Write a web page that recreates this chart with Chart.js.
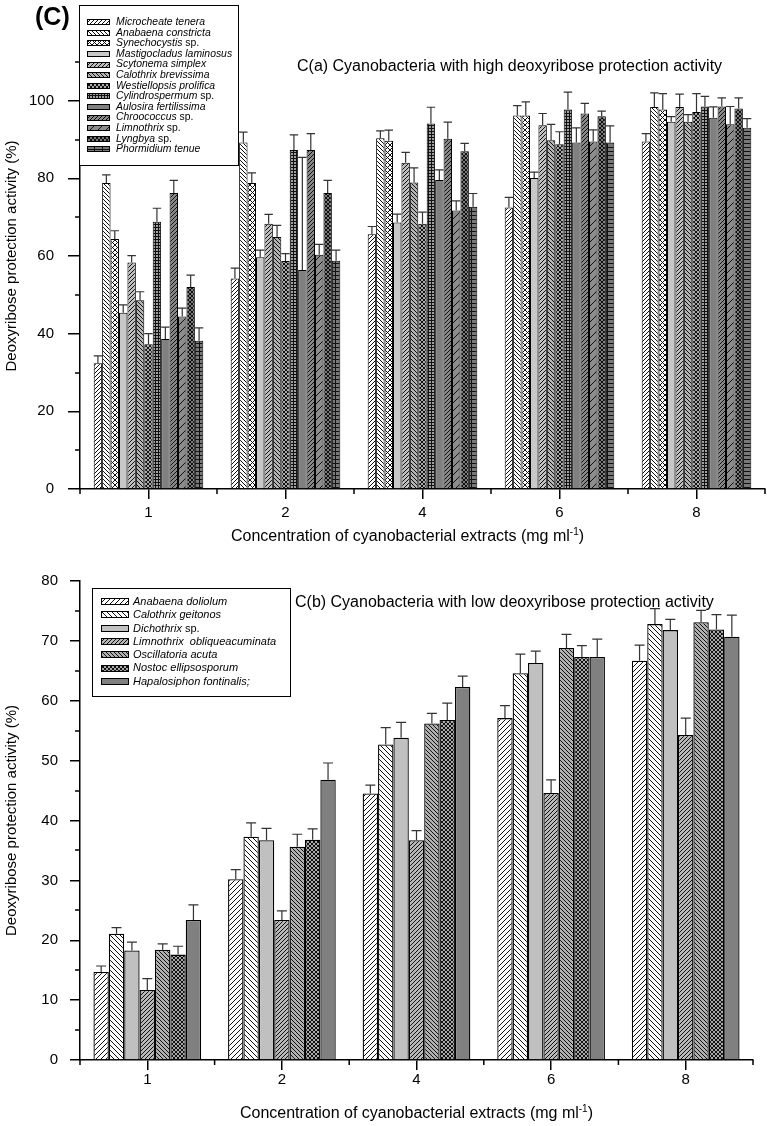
<!DOCTYPE html>
<html>
<head>
<meta charset="utf-8">
<script src="https://cdn.jsdelivr.net/npm/chart.js@4.4.1/dist/chart.umd.min.js"></script>
<style>
  body { margin: 0; background: #fff; font-family: "Liberation Sans", Arial, sans-serif; }
  #page { position: relative; width: 767px; height: 1126px; overflow: hidden; }
  #page canvas.chart { position: absolute; left: 0; }
  .lbl { position: absolute; white-space: nowrap; color: #000; }
  .lbl sup { font-size: 10px; }
  .legend { position: absolute; border: 1px solid #000; background: #fff; box-sizing: border-box; }
  .legend .row { display: flex; align-items: center; white-space: pre; }
  .legend canvas { display: block; flex: none; }
  .legend i { font-style: italic; }
</style>
</head>
<body>
<div id="page">
  <canvas class="chart" id="highChart" width="767" height="545" style="top:0"></canvas>
  <canvas class="chart" id="lowChart" width="767" height="566" style="top:560px"></canvas>

  <div class="lbl" style="left:35px; top:2px; font-size:25px; font-weight:bold;">(C)</div>
  <div class="lbl" style="left:297px; top:57px; font-size:16px;">C(a) Cyanobacteria with high deoxyribose protection activity</div>
  <div class="lbl" style="left:231px; top:526px; font-size:16px;">Concentration of cyanobacterial extracts (mg ml<sup>-1</sup>)</div>

  <div class="lbl" style="left:295px; top:593px; font-size:16px;">C(b) Cyanobacteria with low deoxyribose protection activity</div>
  <div class="lbl" style="left:80px; width:673px; text-align:center; top:1103px; font-size:16px;">Concentration of cyanobacterial extracts (mg ml<sup>-1</sup>)</div>

  <div class="legend" id="highLegend" style="left:79px; top:5px; width:160px; height:161px; padding:11px 0 0 7px; font-size:10.4px; line-height:10.6px;"></div>
  <div class="legend" id="lowLegend" style="left:92px; top:588px; width:199px; height:109px; padding:6px 0 0 8px; font-size:11px; line-height:13.3px;"></div>
</div>

<script>
Chart.defaults.font.family = '"Liberation Sans", Arial, sans-serif';
Chart.defaults.color = '#000';

const concentrations = ['1', '2', '4', '6', '8'];

// ---- C(a) cyanobacteria with high activity (mean, SD) ----
const microcheateTenera = [32.4, 54.2, 65.6, 72.5, 89.5];
const microcheateTeneraSd = [1.9, 2.7, 2.0, 2.6, 2.0];
const anabaenaConstricta = [78.8, 89.2, 90.3, 96.2, 98.4];
const anabaenaConstrictaSd = [2.1, 2.7, 1.9, 2.5, 3.6];
const synechocystis = [64.4, 78.8, 89.7, 96.2, 97.7];
const synechocystisSd = [2.1, 2.6, 2.7, 3.5, 4.1];
const mastigocladus = [45.4, 59.7, 68.6, 80.1, 94.6];
const mastigocladusSd = [2.0, 1.8, 2.2, 1.5, 1.3];
const scytonema = [58.3, 68.3, 84.0, 93.7, 98.4];
const scytonemaSd = [1.8, 2.4, 2.7, 3.0, 3.3];
const calothrixBrevissima = [48.6, 64.9, 78.9, 89.8, 94.6];
const calothrixBrevissimaSd = [2.2, 3.0, 3.8, 4.1, 1.8];
const westiellopsis = [37.3, 58.7, 68.3, 88.8, 97.1];
const westiellopsisSd = [2.7, 1.9, 3.0, 3.2, 4.7];
const cylindrospermum = [68.8, 87.3, 94.1, 97.7, 98.5];
const cylindrospermumSd = [3.5, 3.9, 4.2, 4.5, 2.6];
const aulosira = [38.6, 56.4, 79.6, 89.2, 95.6];
const aulosiraSd = [3.1, 29.0, 2.6, 3.8, 2.8];
const chroococcus = [76.2, 87.3, 90.2, 96.7, 98.5];
const chroococcusSd = [3.3, 4.2, 4.3, 2.6, 2.2];
const limnothrix = [44.4, 60.3, 71.7, 89.5, 93.9];
const limnothrixSd = [2.2, 2.7, 2.5, 3.0, 4.6];
const lyngbya = [52.0, 76.2, 87.0, 96.0, 98.0];
const lyngbyaSd = [3.1, 3.3, 2.0, 1.3, 2.7];
const phormidium = [38.2, 58.8, 72.7, 89.2, 93.0];
const phormidiumSd = [3.3, 2.7, 3.4, 4.3, 2.4];

const highNames = ['Microcheate tenera', 'Anabaena constricta', 'Synechocystis sp.', 'Mastigocladus laminosus',
  'Scytonema simplex', 'Calothrix brevissima', 'Westiellopsis prolifica', 'Cylindrospermum sp.',
  'Aulosira fertilissima', 'Chroococcus sp.', 'Limnothrix sp.', 'Lyngbya sp.', 'Phormidium tenue'];
const highMeans = [microcheateTenera, anabaenaConstricta, synechocystis, mastigocladus, scytonema, calothrixBrevissima,
  westiellopsis, cylindrospermum, aulosira, chroococcus, limnothrix, lyngbya, phormidium];
const highSds = [microcheateTeneraSd, anabaenaConstrictaSd, synechocystisSd, mastigocladusSd, scytonemaSd,
  calothrixBrevissimaSd, westiellopsisSd, cylindrospermumSd, aulosiraSd, chroococcusSd, limnothrixSd, lyngbyaSd, phormidiumSd];

// ---- C(b) cyanobacteria with low activity (mean, SD) ----
const anabaenaDoliolum = [14.7, 30.2, 44.5, 57.1, 66.7];
const anabaenaDoliolumSd = [1.0, 1.6, 1.4, 2.1, 2.6];
const calothrixGeitonos = [21.1, 37.3, 52.7, 64.6, 72.8];
const calothrixGeitonosSd = [1.0, 2.3, 2.8, 3.2, 2.6];
const dichothrix = [18.3, 36.7, 53.8, 66.3, 71.8];
const dichothrixSd = [1.4, 2.0, 2.6, 2.0, 1.8];
const limnothrixObliq = [11.7, 23.4, 36.7, 44.6, 54.3];
const limnothrixObliqSd = [1.9, 1.5, 1.6, 2.2, 2.8];
const oscillatoria = [18.4, 35.6, 56.2, 68.8, 73.1];
const oscillatoriaSd = [1.0, 2.1, 1.7, 2.3, 2.0];
const nostoc = [17.6, 36.8, 56.8, 67.3, 71.9];
const nostocSd = [1.4, 1.8, 2.8, 1.9, 2.5];
const hapalosiphon = [23.4, 46.8, 62.3, 67.3, 70.7];
const hapalosiphonSd = [2.5, 2.8, 1.8, 3.0, 3.6];

const lowNames = ['Anabaena doliolum', 'Calothrix geitonos', 'Dichothrix sp.', 'Limnothrix  obliqueacuminata',
  'Oscillatoria acuta', 'Nostoc ellipsosporum', 'Hapalosiphon fontinalis;'];
const lowMeans = [anabaenaDoliolum, calothrixGeitonos, dichothrix, limnothrixObliq, oscillatoria, nostoc, hapalosiphon];
const lowSds = [anabaenaDoliolumSd, calothrixGeitonosSd, dichothrixSd, limnothrixObliqSd, oscillatoriaSd, nostocSd, hapalosiphonSd];

// fill looks: [background, hatch kind, spacing]
const highLooks = [
  ['#ffffff', 'fwd', 4], ['#ffffff', 'back', 4], ['#ffffff', 'cross', 5], ['#c8c8c8', 'solid', 4],
  ['#c0c0c0', 'fwd', 4], ['#b4b4b4', 'back', 4], ['#a8a8a8', 'cross', 4], ['#a0a0a0', 'grid', 3],
  ['#808080', 'solid', 4], ['#888888', 'fwd', 4], ['#8c8c8c', 'fwd', 8], ['#787878', 'cross', 4], ['#787878', 'hgrid', 4]
];
const lowLooks = [
  ['#ffffff', 'fwd', 5], ['#ffffff', 'back', 5], ['#c0c0c0', 'solid', 4], ['#b8b8b8', 'fwd', 4],
  ['#b0b0b0', 'back', 4], ['#a8a8a8', 'cross', 4], ['#808080', 'solid', 4]
];

function makeTile(bg, kind, s) {
  const w = kind === 'hgrid' ? s * 2 : s;
  const c = document.createElement('canvas');
  c.width = w; c.height = s;
  const g = c.getContext('2d');
  g.fillStyle = bg;
  g.fillRect(0, 0, w, s);
  g.strokeStyle = '#111';
  g.lineWidth = 1;
  g.beginPath();
  if (kind === 'fwd' || kind === 'cross') {
    g.moveTo(0, s); g.lineTo(s, 0);
    g.moveTo(-1, 1); g.lineTo(1, -1);
    g.moveTo(s - 1, s + 1); g.lineTo(s + 1, s - 1);
  }
  if (kind === 'back' || kind === 'cross') {
    g.moveTo(0, 0); g.lineTo(s, s);
    g.moveTo(-1, s - 1); g.lineTo(1, s + 1);
    g.moveTo(s - 1, -1); g.lineTo(s + 1, 1);
  }
  if (kind === 'grid' || kind === 'hgrid') {
    g.moveTo(0, s - 0.5); g.lineTo(w, s - 0.5);
    g.moveTo(w - 0.5, 0); g.lineTo(w - 0.5, s);
  }
  g.stroke();
  return c;
}

function fillFor(ctx, look) {
  if (look[1] === 'solid') return look[0];
  return ctx.createPattern(makeTile(look[0], look[1], look[2]), 'repeat');
}

// error bars drawn from the dataset's sd values through the y scale
const errorBars = {
  id: 'errorBars',
  afterDatasetsDraw(chart) {
    const y = chart.scales.y;
    const ctx = chart.ctx;
    ctx.save();
    ctx.strokeStyle = '#333';
    ctx.lineWidth = 1.2;
    chart.data.datasets.forEach((ds, i) => {
      chart.getDatasetMeta(i).data.forEach((bar, j) => {
        const top = y.getPixelForValue(ds.data[j] + ds.sd[j]);
        const half = bar.width * ds.capRatio / 2;
        ctx.beginPath();
        ctx.moveTo(bar.x, bar.y);
        ctx.lineTo(bar.x, top);
        ctx.moveTo(bar.x - half, top);
        ctx.lineTo(bar.x + half, top);
        ctx.stroke();
      });
    });
    ctx.restore();
  }
};

// short ticks between labelled ones, and at the category boundaries
const minorTicks = {
  id: 'minorTicks',
  afterDraw(chart, args, opts) {
    const { x, y } = chart.scales;
    const ctx = chart.ctx;
    ctx.save();
    ctx.strokeStyle = '#000';
    ctx.lineWidth = 1.5;
    ctx.beginPath();
    for (let v = opts.start; v < y.max; v += opts.start * 2) {
      const py = Math.round(y.getPixelForValue(v));
      ctx.moveTo(x.left, py);
      ctx.lineTo(x.left - opts.len, py);
    }
    const half = (x.getPixelForValue(1) - x.getPixelForValue(0)) / 2;
    for (let i = 0; i <= concentrations.length; i++) {
      const px = x.getPixelForValue(i) - half;
      ctx.moveTo(px, y.bottom);
      ctx.lineTo(px, y.bottom + opts.len);
    }
    ctx.stroke();
    ctx.restore();
  }
};

function buildChart(id, means, sds, names, looks, cfg) {
  const ctx = document.getElementById(id).getContext('2d');
  return new Chart(ctx, {
    type: 'bar',
    data: {
      labels: concentrations,
      datasets: means.map((m, i) => ({
        label: names[i],
        data: m,
        sd: sds[i],
        capRatio: cfg.capRatio,
        backgroundColor: fillFor(ctx, looks[i]),
        borderColor: '#000',
        borderWidth: cfg.barBorder,
        categoryPercentage: 0.8,
        barPercentage: 1
      }))
    },
    options: {
      responsive: false,
      animation: false,
      layout: { padding: { left: 0, right: cfg.padRight, top: cfg.padTop, bottom: 0 } },
      plugins: {
        legend: { display: false },
        tooltip: { enabled: false },
        minorTicks: { start: cfg.minorStart, len: 5 }
      },
      scales: {
        x: {
          afterFit: s => { s.height = cfg.xHeight; },
          grid: { drawOnChartArea: false, offset: false, tickLength: 10, color: '#000', lineWidth: 1.5 },
          border: { color: '#000', width: 1.5 },
          ticks: { font: { size: 15 }, color: '#000', padding: cfg.xPad, maxRotation: 0 }
        },
        y: {
          min: 0,
          max: cfg.yMax,
          afterFit: s => { s.width = 80; },
          afterBuildTicks: s => { s.ticks = s.ticks.filter(t => t.value <= cfg.yLastLabel); },
          grid: { drawOnChartArea: false, tickLength: cfg.yTick, color: '#000', lineWidth: 1.5 },
          border: { color: '#000', width: 1.5 },
          ticks: { stepSize: cfg.yStep, font: { size: 15 }, color: '#000', padding: cfg.yPad },
          title: { display: true, text: 'Deoxyribose protection activity (%)', font: { size: 15 }, padding: { top: 3, bottom: 0 } }
        }
      }
    },
    plugins: [errorBars, minorTicks]
  });
}

buildChart('highChart', highMeans, highSds, highNames, highLooks, {
  capRatio: 1.0, barBorder: 1, padRight: 2, padTop: 18, xHeight: 56, xPad: 5,
  yMax: 120, yLastLabel: 100, yStep: 20, minorStart: 10, yTick: 12, yPad: 14
});
buildChart('lowChart', lowMeans, lowSds, lowNames, lowLooks, {
  capRatio: 0.65, barBorder: 1.3, padRight: 14, padTop: 20, xHeight: 66, xPad: 1,
  yMax: 80, yLastLabel: 80, yStep: 10, minorStart: 5, yTick: 10, yPad: 12
});

// HTML legends with the same fills
function buildLegend(boxId, names, looks, sw, sh, gap) {
  const box = document.getElementById(boxId);
  names.forEach((name, i) => {
    const row = document.createElement('div');
    row.className = 'row';
    const c = document.createElement('canvas');
    c.width = sw; c.height = sh;
    c.style.marginRight = gap + 'px';
    const g = c.getContext('2d');
    g.fillStyle = fillFor(g, looks[i]);
    g.fillRect(0, 0, sw, sh);
    g.strokeStyle = '#000';
    g.lineWidth = 1;
    g.strokeRect(0.5, 0.5, sw - 1, sh - 1);
    row.appendChild(c);
    const m = name.match(/^(.*?)( sp\.)$/);
    const it = document.createElement('i');
    it.textContent = m ? m[1] : name;
    row.appendChild(it);
    if (m) row.appendChild(document.createTextNode(m[2]));
    box.appendChild(row);
  });
}
buildLegend('highLegend', highNames, highLooks, 23, 6, 6);
buildLegend('lowLegend', lowNames, lowLooks, 28, 7, 4);
</script>
</body>
</html>
